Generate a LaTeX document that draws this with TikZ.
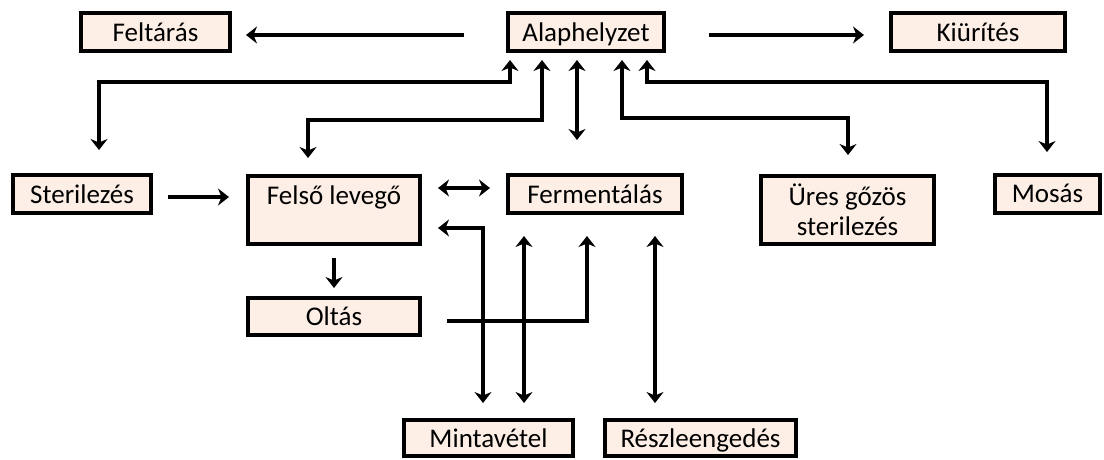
\documentclass[tikz,border=0pt]{standalone}
\usepackage{fontspec}
\setmainfont{Carlito}
\usetikzlibrary{arrows.meta}
\definecolor{boxfill}{RGB}{253,239,230}
\begin{document}
\begin{tikzpicture}[x=1pt,y=-1pt,
  box/.style={draw=black, line width=4pt, fill=boxfill, inner sep=0pt,
    font=\fontsize{27}{30}\selectfont, align=center, minimum height=38pt},
  one/.style={text height=22pt, text depth=4pt},
  tall/.style={minimum height=68pt},
  conn/.style={line width=4.6pt, black},
  tipA/.style={-{Stealth[length=11pt,width=17pt,inset=3.5pt]}},
  tipB/.style={{Stealth[length=11pt,width=17pt,inset=3.5pt]}-{Stealth[length=11pt,width=17pt,inset=3.5pt]}}]
\useasboundingbox (0,0) rectangle (1104,459);
% boxes
\node[box, one, minimum width=149pt] (felt) at (155.5,32) {Feltárás};
\node[box, one, minimum width=156pt] (alap) at (586,32) {Alaphelyzet};
\node[box, one, minimum width=174pt] (kiur) at (978,32) {Kiürítés};
\node[box, one, minimum width=138pt] (ster) at (82,194) {Sterilezés};
\node[box, tall, minimum width=172pt] (felso) at (334,210) {Felső levegő\\\phantom{sterilezés}};
\node[box, one, minimum width=174pt] (ferm) at (595,194) {Fermentálás};
\node[box, tall, minimum width=173pt] (ures) at (847.5,210) {Üres gőzös\\sterilezés};
\node[box, one, minimum width=105pt] (mos) at (1047.5,193.5) {Mosás};
\node[box, one, minimum width=172pt, minimum height=37pt] (olt) at (334,316.5) {Oltás};
\node[box, one, minimum width=169pt, minimum height=36pt] (mint) at (488.5,438) {Mintavétel};
\node[box, one, minimum width=191pt, minimum height=36pt] (resz) at (700.5,438) {Részleengedés};
% free ends of connectors
\coordinate (fA) at (464,35);  \coordinate (fB) at (246,35);
\coordinate (kA) at (709,35);  \coordinate (kB) at (864,35);
\coordinate (s1) at (510,60);  \coordinate (s2) at (99,150);
\coordinate (l1) at (542,60);  \coordinate (l2) at (308,158);
\coordinate (m1) at (577,60);  \coordinate (m2) at (577,140);
\coordinate (u1) at (622,60);  \coordinate (u2) at (848,155);
\coordinate (w1) at (647,60);  \coordinate (w2) at (1047,152);
\coordinate (sf1) at (168,197); \coordinate (sf2) at (229,197);
\coordinate (ff1) at (438,188); \coordinate (ff2) at (490,188);
\coordinate (fm1) at (438,228); \coordinate (fm2) at (483,403);
\coordinate (fe1) at (524,236); \coordinate (fe2) at (524,403);
\coordinate (o1) at (447,321);  \coordinate (o2) at (587,236);
\coordinate (r1) at (655,236);  \coordinate (r2) at (655,403);
\coordinate (fo1) at (334,258); \coordinate (fo2) at (334,288);
% connectors
\draw[conn, tipA] (fA) -- (fB);
\draw[conn, tipA] (kA) -- (kB);
\draw[conn, tipB] (s1) -- ++(0,22) -| (s2);
\draw[conn, tipB] (l1) -- ++(0,60) -| (l2);
\draw[conn, tipB] (m1) -- (m2);
\draw[conn, tipB] (u1) -- ++(0,58) -| (u2);
\draw[conn, tipB] (w1) -- ++(0,22) -| (w2);
\draw[conn, tipA] (sf1) -- (sf2);
\draw[conn, tipB] (ff1) -- (ff2);
\draw[conn, tipB] (fm1) -| (fm2);
\draw[conn, tipB] (fe1) -- (fe2);
\draw[conn, tipA] (o1) -| (o2);
\draw[conn, tipB] (r1) -- (r2);
\draw[conn, tipA] (fo1) -- (fo2);
\end{tikzpicture}
\end{document}
